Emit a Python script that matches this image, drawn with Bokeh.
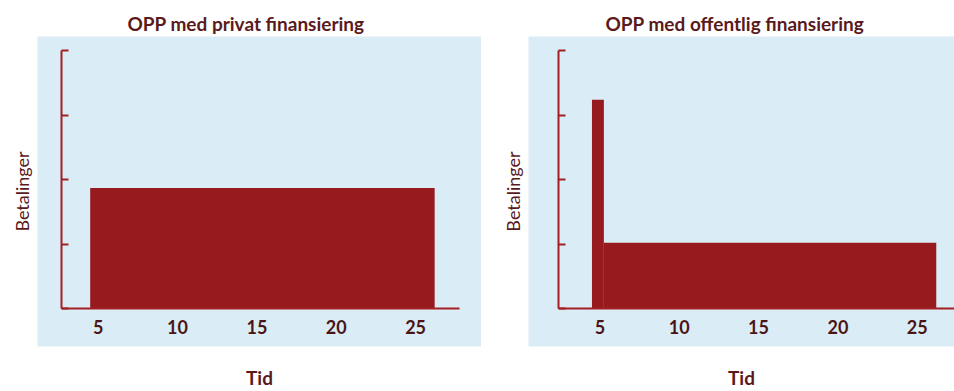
from bokeh.plotting import figure
from bokeh.layouts import row
from bokeh.models import Range1d, LinearAxis, FixedTicker
from bokeh.embed import file_html
from bokeh.resources import INLINE

# ---- data ----
titles = ["OPP med privat finansiering", "OPP med offentlig finansiering"]
x_title = "Tid"
y_title = "Betalinger"
x_tick_values = [5, 10, 15, 20, 25]
y_tick_values = [0, 1, 2, 3, 4]

# privat finansiering: one flat payment stream
priv_start = [4.5]
priv_end = [26.2]
priv_pay = [1.87]

# offentlig finansiering: large up-front payment, then lower stream
off_start = [4.5, 5.25]
off_end = [5.25, 26.2]
off_pay = [3.24, 1.02]

# ---- style ----
FONT = "Lato"
BG = "#daedf6"
BAR = "#961a1e"
AXIS = "#a31f24"
TXT = "#5a1a1c"
TICK_TXT = "#4b1517"


def panel(title, starts, ends, pays, width, left_border, x_range, y_axis_x,
          x_axis_end, title_offset):
    p = figure(width=width, height=391, output_backend="svg", toolbar_location=None,
               x_range=Range1d(*x_range), y_range=Range1d(-0.592, 4.223),
               x_axis_type=None, y_axis_type=None,
               min_border_left=left_border, min_border_right=0,
               min_border_top=36, min_border_bottom=42)
    p.background_fill_color = BG
    p.border_fill_color = "white"
    p.outline_line_color = None
    p.xgrid.visible = False
    p.ygrid.visible = False

    p.title.text = title
    p.title.align = "left"
    p.title.offset = title_offset
    p.title.text_font = FONT
    p.title.text_font_size = "19px"
    p.title.text_font_style = "bold"
    p.title.text_color = TXT
    p.title.standoff = 3

    p.quad(left=starts, right=ends, bottom=0, top=pays,
           fill_color=BAR, line_color=None)

    # axes drawn inside the frame
    xa = LinearAxis(fixed_location=0, ticker=FixedTicker(ticks=x_tick_values),
                    bounds=(y_axis_x, x_axis_end))
    xa.axis_line_color = AXIS
    xa.axis_line_width = 2
    xa.major_tick_in = 0
    xa.major_tick_out = 0
    xa.minor_tick_line_color = None
    xa.major_label_standoff = 12
    xa.major_label_text_font = FONT
    xa.major_label_text_font_size = "18px"
    xa.major_label_text_font_style = "bold"
    xa.major_label_text_color = TICK_TXT
    p.add_layout(xa, "below")

    ya = LinearAxis(fixed_location=y_axis_x, ticker=FixedTicker(ticks=y_tick_values),
                    bounds=(0, 4))
    ya.axis_line_color = AXIS
    ya.axis_line_width = 2
    ya.major_tick_line_color = AXIS
    ya.major_tick_line_width = 2
    ya.major_tick_in = 7
    ya.major_tick_out = 0
    ya.minor_tick_line_color = None
    ya.major_label_text_color = None
    p.add_layout(ya, "left")

    # outer axes only carry the titles
    bx = LinearAxis(ticker=FixedTicker(ticks=[]), axis_label=x_title)
    bx.axis_line_color = None
    bx.major_tick_out = 0
    bx.major_tick_in = 0
    bx.minor_tick_line_color = None
    bx.axis_label_standoff = 19
    bx.axis_label_text_font = FONT
    bx.axis_label_text_font_size = "19px"
    bx.axis_label_text_font_style = "bold"
    bx.axis_label_text_color = TXT
    p.add_layout(bx, "below")

    ly = LinearAxis(ticker=FixedTicker(ticks=[]), axis_label=y_title)
    ly.axis_line_color = None
    ly.major_tick_out = 0
    ly.major_tick_in = 0
    ly.minor_tick_line_color = None
    ly.axis_label_standoff = 5
    ly.axis_label_text_font = FONT
    ly.axis_label_text_font_size = "18px"
    ly.axis_label_text_font_style = "normal"
    ly.axis_label_text_color = TXT
    p.add_layout(ly, "left")
    return p


p1 = panel(titles[0], priv_start, priv_end, priv_pay, 481, 37,
           (1.18, 29.15), 2.69, 27.77, 90)
p2 = panel(titles[1], off_start, off_end, off_pay, 473, 47,
           (0.50, 27.35), 2.39, 27.35, 77)

layout = row(p1, p2, spacing=0)
open("out.html", "w").write(file_html(layout, INLINE))
